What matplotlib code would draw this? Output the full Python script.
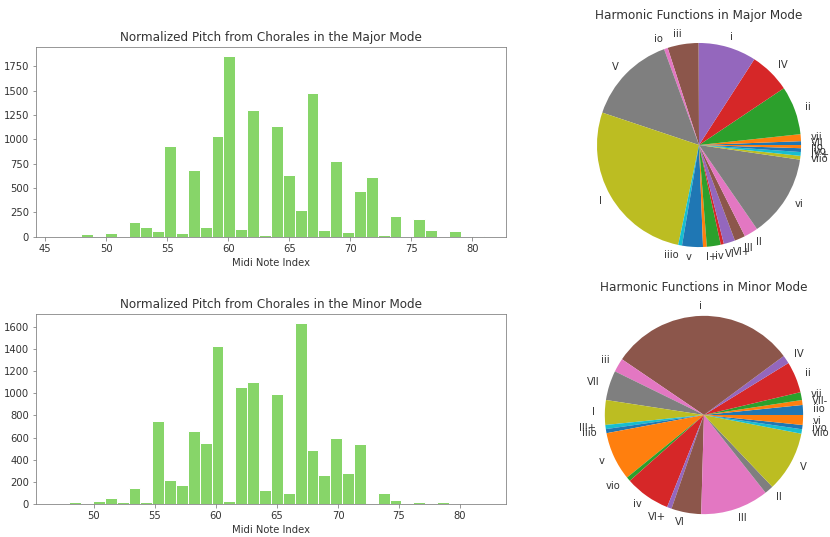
import matplotlib
matplotlib.use("Agg")
import matplotlib.pyplot as plt
import numpy as np

# pitch histograms: 36 bins over the midi range of each mode
major_range = (46, 81)
major_counts = [2, 0, 25, 0, 40, 0, 150, 100, 55, 930, 40, 690, 100, 1040,
                1860, 85, 1305, 15, 1140, 640, 280, 1480, 70, 780, 50, 475,
                610, 15, 215, 0, 180, 65, 0, 60, 0, 8]

minor_range = (47, 82)
minor_counts = [2, 15, 0, 25, 50, 15, 140, 20, 745, 220, 175, 660, 550, 1425,
                30, 1055, 1105, 130, 995, 95, 1635, 485, 260, 600, 280, 545,
                8, 100, 35, 0, 18, 0, 15, 0, 0, 2]

# harmonic function shares (percent), counter-clockwise from 3 o'clock
major_funcs = ["VII", "vii", "ii", "IV", "i", "iii", "io", "V", "I", "iiio",
               "v", "I+", "iv", "VI", "VI+", "III", "II", "vi", "viio", "IV+",
               "ivo", "iio"]
major_share = [0.6, 1.1, 7.7, 6.5, 9.2, 4.9, 0.6, 14.3, 26.9, 0.6,
               3.3, 0.6, 2.2, 0.5, 1.8, 1.7, 2.2, 13.1, 0.6, 0.6,
               0.6, 0.5]

minor_funcs = ["iio", "VII-", "vii", "ii", "IV", "i", "iii", "VII", "I", "III+",
               "iiio", "v", "vio", "iv", "VI+", "VI", "III", "II", "V", "viio",
               "ivo", "vi"]
minor_share = [5.8, 2.9, 4.6, 18.3, 4.9, 109.3, 8.1, 17.4, 14.5, 2.4,
               2.4, 28.5, 2.5, 26.6, 2.7, 17.5, 40.0, 5.2, 35.5, 2.6,
               2.5, 5.8]

BAR = "#87d569"
GREY = "#808080"
TEXT = "#333333"

plt.rcParams.update({
    "text.color": TEXT,
    "axes.labelcolor": TEXT,
    "xtick.color": GREY,
    "ytick.color": GREY,
    "xtick.labelcolor": TEXT,
    "ytick.labelcolor": TEXT,
    "axes.edgecolor": GREY,
})

fig = plt.figure(figsize=(830 / 72, 537 / 72), dpi=72)


def pitch_hist(rect, counts, rng, title, yticks):
    ax = fig.add_axes(rect)
    nbins = len(counts)
    edges = np.linspace(rng[0], rng[1], nbins + 1)
    centers = (edges[:-1] + edges[1:]) / 2
    ax.hist(centers, bins=edges, weights=counts, color=BAR,
            edgecolor="white", linewidth=1.0)
    ax.set_title(title, fontsize=12)
    ax.set_xlabel("Midi Note Index")
    ax.set_yticks(yticks)
    return ax


ax1 = pitch_hist([0.0434, 0.559, 0.566, 0.354], major_counts, major_range,
                 "Normalized Pitch from Chorales in the Major Mode",
                 np.arange(0, 1751, 250))
ax2 = pitch_hist([0.0434, 0.0615, 0.566, 0.354], minor_counts, minor_range,
                 "Normalized Pitch from Chorales in the Minor Mode",
                 np.arange(0, 1601, 200))


def func_pie(rect, shares, labels, title, lim):
    ax = fig.add_axes(rect)
    ax.pie(shares, labels=labels, startangle=0, counterclock=True,
           textprops={"fontsize": 10})
    ax.set_xlim(-lim, lim)
    ax.set_ylim(-lim, lim)
    ax.set_aspect("equal")
    ax.set_title(title, fontsize=12)
    return ax


func_pie([0.6976, 0.5065, 0.2892, 0.4469], major_share, major_funcs,
         "Harmonic Functions in Major Mode", 1.176)
func_pie([0.706, 0.00745, 0.2843, 0.4395], minor_share, minor_funcs,
         "Harmonic Functions in Minor Mode", 1.19)

fig.savefig("out.png", dpi=72)
